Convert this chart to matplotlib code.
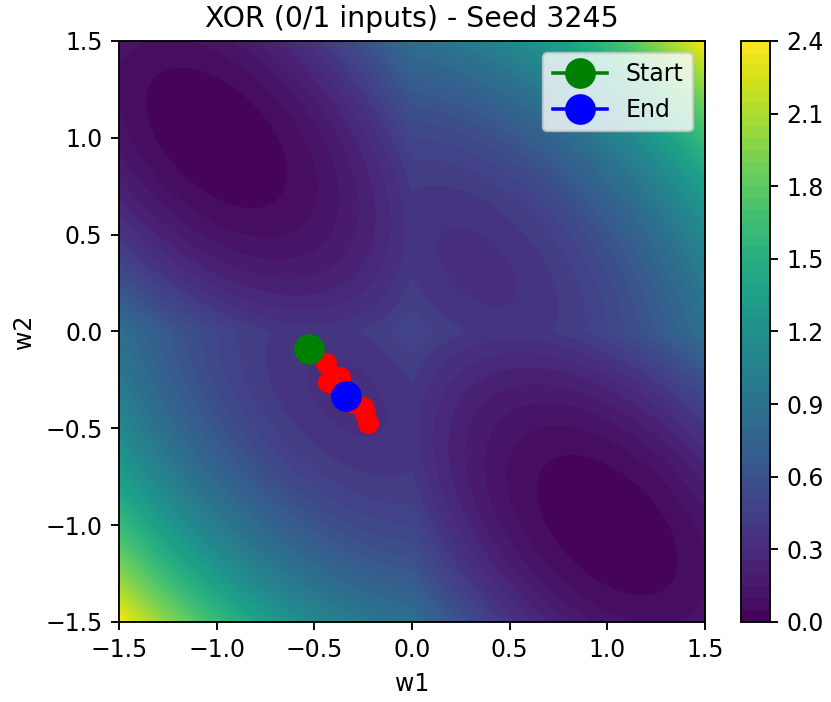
import numpy as np
import matplotlib.pyplot as plt

# XOR data with 0/1 inputs, model y = |w1*x1 + w2*x2|
X = np.array([[0, 0], [0, 1], [1, 0], [1, 1]])
Y = np.array([0, 1, 1, 0])

# gradient descent path
path_w1 = [-0.527, -0.442, -0.428, -0.369, -0.30, -0.249, -0.24, -0.224, -0.336]
path_w2 = [-0.090, -0.164, -0.259, -0.236, -0.37, -0.388, -0.42, -0.474, -0.331]

cbar_ticks = [0.0, 0.3, 0.6, 0.9, 1.2, 1.5, 1.8, 2.1, 2.4]

w = np.linspace(-1.5, 1.5, 300)
W1, W2 = np.meshgrid(w, w)
loss = np.zeros_like(W1)
for (x1, x2), t in zip(X, Y):
    loss += (np.abs(W1 * x1 + W2 * x2) - t) ** 2
loss /= len(Y)

dpi = 170
fig = plt.figure(figsize=(831 / dpi, 702 / dpi), dpi=dpi)
ax = fig.add_axes([0.1432, 0.114, 0.7052, 0.8276])
cax = fig.add_axes([0.8917, 0.114, 0.035, 0.8276])

cf = ax.contourf(W1, W2, loss, levels=50, cmap='viridis')
cb = fig.colorbar(cf, cax=cax)
cb.set_ticks(cbar_ticks)

ax.plot(path_w1, path_w2, 'ro-', markersize=8)
ax.plot(path_w1[0], path_w2[0], 'o-', color='green', markersize=12, label='Start')
ax.plot(path_w1[-1], path_w2[-1], 'o-', color='blue', markersize=12, label='End')

ax.set_title('XOR (0/1 inputs) - Seed 3245')
ax.set_xlabel('w1')
ax.set_ylabel('w2')
ax.legend(markerscale=1.0, handlelength=2.3)

plt.savefig('out.png', dpi=dpi)
